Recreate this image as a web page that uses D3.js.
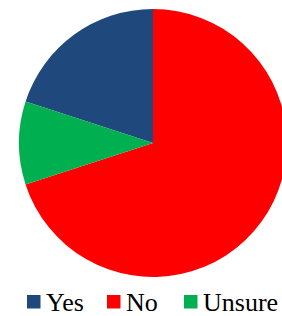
<!DOCTYPE html>
<html>
<head>
<meta charset="utf-8">
<script src="https://cdn.jsdelivr.net/npm/d3@7"></script>
<style>
  html, body { margin: 0; padding: 0; background: #fff; overflow: hidden; }
</style>
</head>
<body>
<div class="chart"></div>
<script>
(function() {
	var width = 282,
		height = 316;

	var categories = ["Yes", "No", "Unsure"],
		values = [20, 70, 10],
		colors = ["#1f497d", "#ff0000", "#00b050"];

	var cx = 153,
		cy = 143,
		radius = 134;

	var svg = d3.select(".chart").append("svg")
		.attr("width", width)
		.attr("height", height);

	// Yes slice ends at 12 o'clock, No runs clockwise from there
	var pie = d3.pie()
		.sort(null)
		.startAngle(-0.4 * Math.PI)
		.endAngle(1.6 * Math.PI);

	var arc = d3.arc()
		.innerRadius(0)
		.outerRadius(radius);

	svg.append("g")
		.attr("transform", "translate(" + cx + "," + cy + ")")
		.selectAll("path")
		.data(pie(values))
		.enter().append("path")
		.attr("d", arc)
		.style("fill", function(d, i) { return colors[i]; });

	var legend = svg.append("g"),
		legendX = [27, 107, 184],
		box = 13.5;

	categories.forEach(function(name, i) {
		legend.append("rect")
			.attr("x", legendX[i])
			.attr("y", 295)
			.attr("width", box)
			.attr("height", box)
			.style("fill", colors[i]);
		legend.append("text")
			.attr("x", legendX[i] + box + 5.5)
			.attr("y", 310.5)
			.attr("font-family", "Liberation Serif")
			.attr("font-size", 26)
			.attr("fill", "#000")
			.text(name);
	});
})();
</script>
</body>
</html>
